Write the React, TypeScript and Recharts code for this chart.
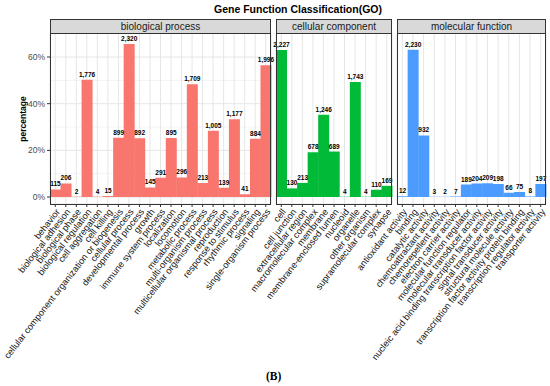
import { BarChart, Bar, XAxis, YAxis, CartesianGrid, LabelList } from "recharts"

const bpNames = [
    "behavior", "biological adhesion", "biological phase", "biological regulation",
    "cell aggregation", "cell killing", "cellular component organization or biogenesis",
    "cellular process", "developmental process", "growth", "immune system process",
    "localization", "locomotion", "metabolic process", "multi-organism process",
    "multicellular organismal process", "reproduction", "response to stimulus",
    "rhythmic process", "signaling", "single-organism process"
]
const bpCounts = [115, 206, 2, 1776, 4, 15, 899, 2320, 892, 145, 291, 895, 296, 1709, 213, 1005, 139, 1177, 41, 884, 1996]

const ccNames = [
    "cell", "cell junction", "extracellular region", "macromolecular complex", "membrane",
    "membrane-enclosed lumen", "nucleoid", "organelle", "other organism",
    "supramolecular complex", "synapse"
]
const ccCounts = [2227, 130, 213, 678, 1246, 689, 4, 1743, 4, 110, 169]

const mfNames = [
    "antioxidant activity", "binding", "catalytic activity", "chemoattractant activity",
    "chemorepellent activity", "electron carrier activity", "molecular function regulator",
    "molecular transducer activity", "nucleic acid binding transcription factor activity",
    "signal transducer activity", "structural molecule activity",
    "transcription factor activity protein binding", "transcription regulator activity",
    "transporter activity"
]
const mfCounts = [12, 2230, 932, 3, 2, 7, 189, 204, 209, 198, 66, 75, 8, 197]

// annotated genes, percentages are count / total
const geneTotal = 3535
const yTicks = [0, 20, 40, 60]
const yMinor = [10, 30, 50, 70]

const FONT = "'Liberation Sans', Arial, sans-serif"
const H = 386
const PLOT_TOP = 33
const PLOT_BOTTOM = 204
const PAD_R = 12

function SlantTick({ x, y, payload }: any) {
    return (
        <g transform={`translate(${x},${y})`}>
            <text x={0} y={0} dy="0.7em" textAnchor="end" transform="rotate(-52)"
                fontSize={9.2} fill="#111" fontFamily={FONT}>
                {payload.value}
            </text>
        </g>
    )
}

interface PanelProps {
    title: string
    names: string[]
    counts: number[]
    color: string
    left: number
    right: number
    showY?: boolean
}

function Panel({ title, names, counts, color, left, right, showY }: PanelProps) {
    const rows = names.map((name, i) => ({ name, count: counts[i], pct: counts[i] / geneTotal * 100 }))
    return (
        <>
            <div style={{ position: "absolute", left: 0, top: 0 }}>
                <BarChart width={right + PAD_R} height={H} data={rows} barCategoryGap={0} barGap={0}
                    margin={{ top: PLOT_TOP, right: PAD_R, bottom: 0, left: showY ? 0 : left }}>
                    <CartesianGrid stroke="#f3f3f3" vertical={false} horizontalValues={yMinor} />
                    <CartesianGrid stroke="#e6e6e6" />
                    <XAxis dataKey="name" interval={0} height={H - PLOT_BOTTOM} axisLine={false}
                        tickSize={3} tickMargin={1} tickLine={{ stroke: "#333" }} tick={<SlantTick />} />
                    <YAxis domain={[-3, 70.3]} allowDataOverflow ticks={yTicks}
                        width={showY ? 50 : 0}
                        tick={showY ? { fontSize: 8.5, fill: "#4d4d4d", fontFamily: FONT } : false}
                        tickLine={showY ? { stroke: "#333" } : false} tickSize={3} tickMargin={2}
                        axisLine={false} tickFormatter={(v: number) => `${v}%`} />
                    <Bar dataKey="pct" fill={color} isAnimationActive={false}>
                        <LabelList dataKey="count" position="top" offset={3}
                            formatter={(v: any) => Number(v).toLocaleString("en-US")}
                            style={{ fontSize: 6.5, fontWeight: "bold", fill: "#000", fontFamily: FONT }} />
                    </Bar>
                </BarChart>
            </div>
            <div style={{
                position: "absolute", left, top: 19, width: right - left, height: 15,
                boxSizing: "border-box", border: "1px solid #333", background: "#d9d9d9",
                fontFamily: FONT, fontSize: 10, lineHeight: "13px", textAlign: "center", color: "#1a1a1a"
            }}>{title}</div>
            <div style={{
                position: "absolute", left, top: PLOT_TOP, width: right - left,
                height: PLOT_BOTTOM - PLOT_TOP + 1, boxSizing: "border-box", border: "1px solid #333",
                pointerEvents: "none"
            }} />
        </>
    )
}

export default function App() {
    return (
        <div style={{ position: "absolute", left: 0, top: 0, width: 550, height: H, background: "#fff", overflow: "hidden" }}>
            <div style={{
                position: "absolute", left: 50, width: 496, top: 3, textAlign: "center",
                fontFamily: FONT, fontWeight: "bold", fontSize: 10.5, color: "#000"
            }}>Gene Function Classification(GO)</div>
            <Panel title="biological process" names={bpNames} counts={bpCounts} color="#F8766D" left={50} right={271} showY />
            <Panel title="cellular component" names={ccNames} counts={ccCounts} color="#00BA38" left={276} right={392} />
            <Panel title="molecular function" names={mfNames} counts={mfCounts} color="#4C9BFF" left={397} right={546} />
            <div style={{
                position: "absolute", left: 23, top: 118.5, transform: "translate(-50%,-50%) rotate(-90deg)",
                fontFamily: FONT, fontWeight: "bold", fontSize: 8.5, color: "#000", whiteSpace: "nowrap"
            }}>percentage</div>
            <div style={{
                position: "absolute", left: 266, top: 370, fontFamily: "'Liberation Serif', 'Times New Roman', serif",
                fontWeight: "bold", fontSize: 11.5, color: "#000"
            }}>(B)</div>
        </div>
    )
}
